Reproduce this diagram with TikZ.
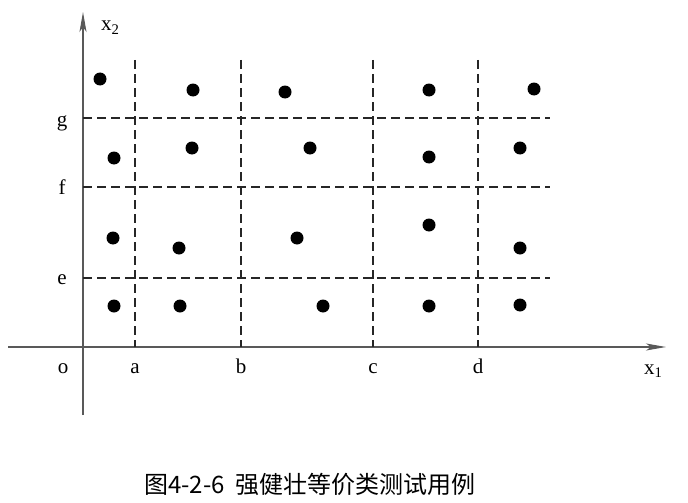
\documentclass[tikz,border=0pt]{standalone}
\usepackage{fontspec}
\setmainfont{Liberation Serif}
\newfontfamily\cjk{Noto Sans CJK SC}
\usetikzlibrary{arrows.meta}
\tikzset{
  axis/.style={draw=black!65, line width=1.2pt, -{Stealth[length=20pt,width=7pt,inset=5pt]}},
  cutline/.style={draw=black!85, line width=1.2pt, dash pattern=on 9pt off 5pt},
  point/.style={circle, fill=black, inner sep=0pt, minimum size=13pt},
  lbl/.style={anchor=base, inner sep=0pt}
}
\begin{document}
\begin{tikzpicture}[x=1pt, y=-1pt, font=\fontsize{21}{23}\selectfont]
		\useasboundingbox (0,0) rectangle (688,503);
		% axes
		\coordinate (xs) at (8,347);
		\coordinate (xe) at (666,347);
		\coordinate (ys) at (83,415);
		\coordinate (ye) at (83,12);
		\draw[axis] (xs) -- (xe);
		\draw[axis] (ys) -- (ye);
		% dashed boundaries
		\foreach \x/\n in {135/a,241/b,373/c,478/d} {
			\draw[cutline] (\x,60) -- (\x,347);
			\node[lbl] (lab-\n) at (\x,373) {\n};
		}
		\foreach \y/\n/\b in {118/g/126,187/f/194,278/e/284} {
			\draw[cutline] (83,\y) -- (550,\y);
			\node[lbl] (lab-\n) at (62,\b) {\n};
		}
		\node[lbl] (lab-o) at (63,373) {o};
		\node[lbl, anchor=base west] (lab-x1) at (644,374) {x\textsubscript{1}};
		\node[lbl, anchor=base west] (lab-x2) at (101,31) {x\textsubscript{2}};
		% test points
		\foreach \x/\y [count=\i] in {100/79,193/90,285/92,429/90,534/89,
			114/158,192/148,310/148,429/157,520/148,
			113/238,179/248,297/238,429/225,520/248,
			114/306,180/306,323/306,429/306,520/305}
			\node[point] (p\i) at (\x,\y) {};
		\node[lbl, font=\cjk\fontsize{24}{26}\selectfont, text=black] (caption) at (310,493) {图4-2-6\ \ 强健壮等价类测试用例};
	\end{tikzpicture}
\end{document}
